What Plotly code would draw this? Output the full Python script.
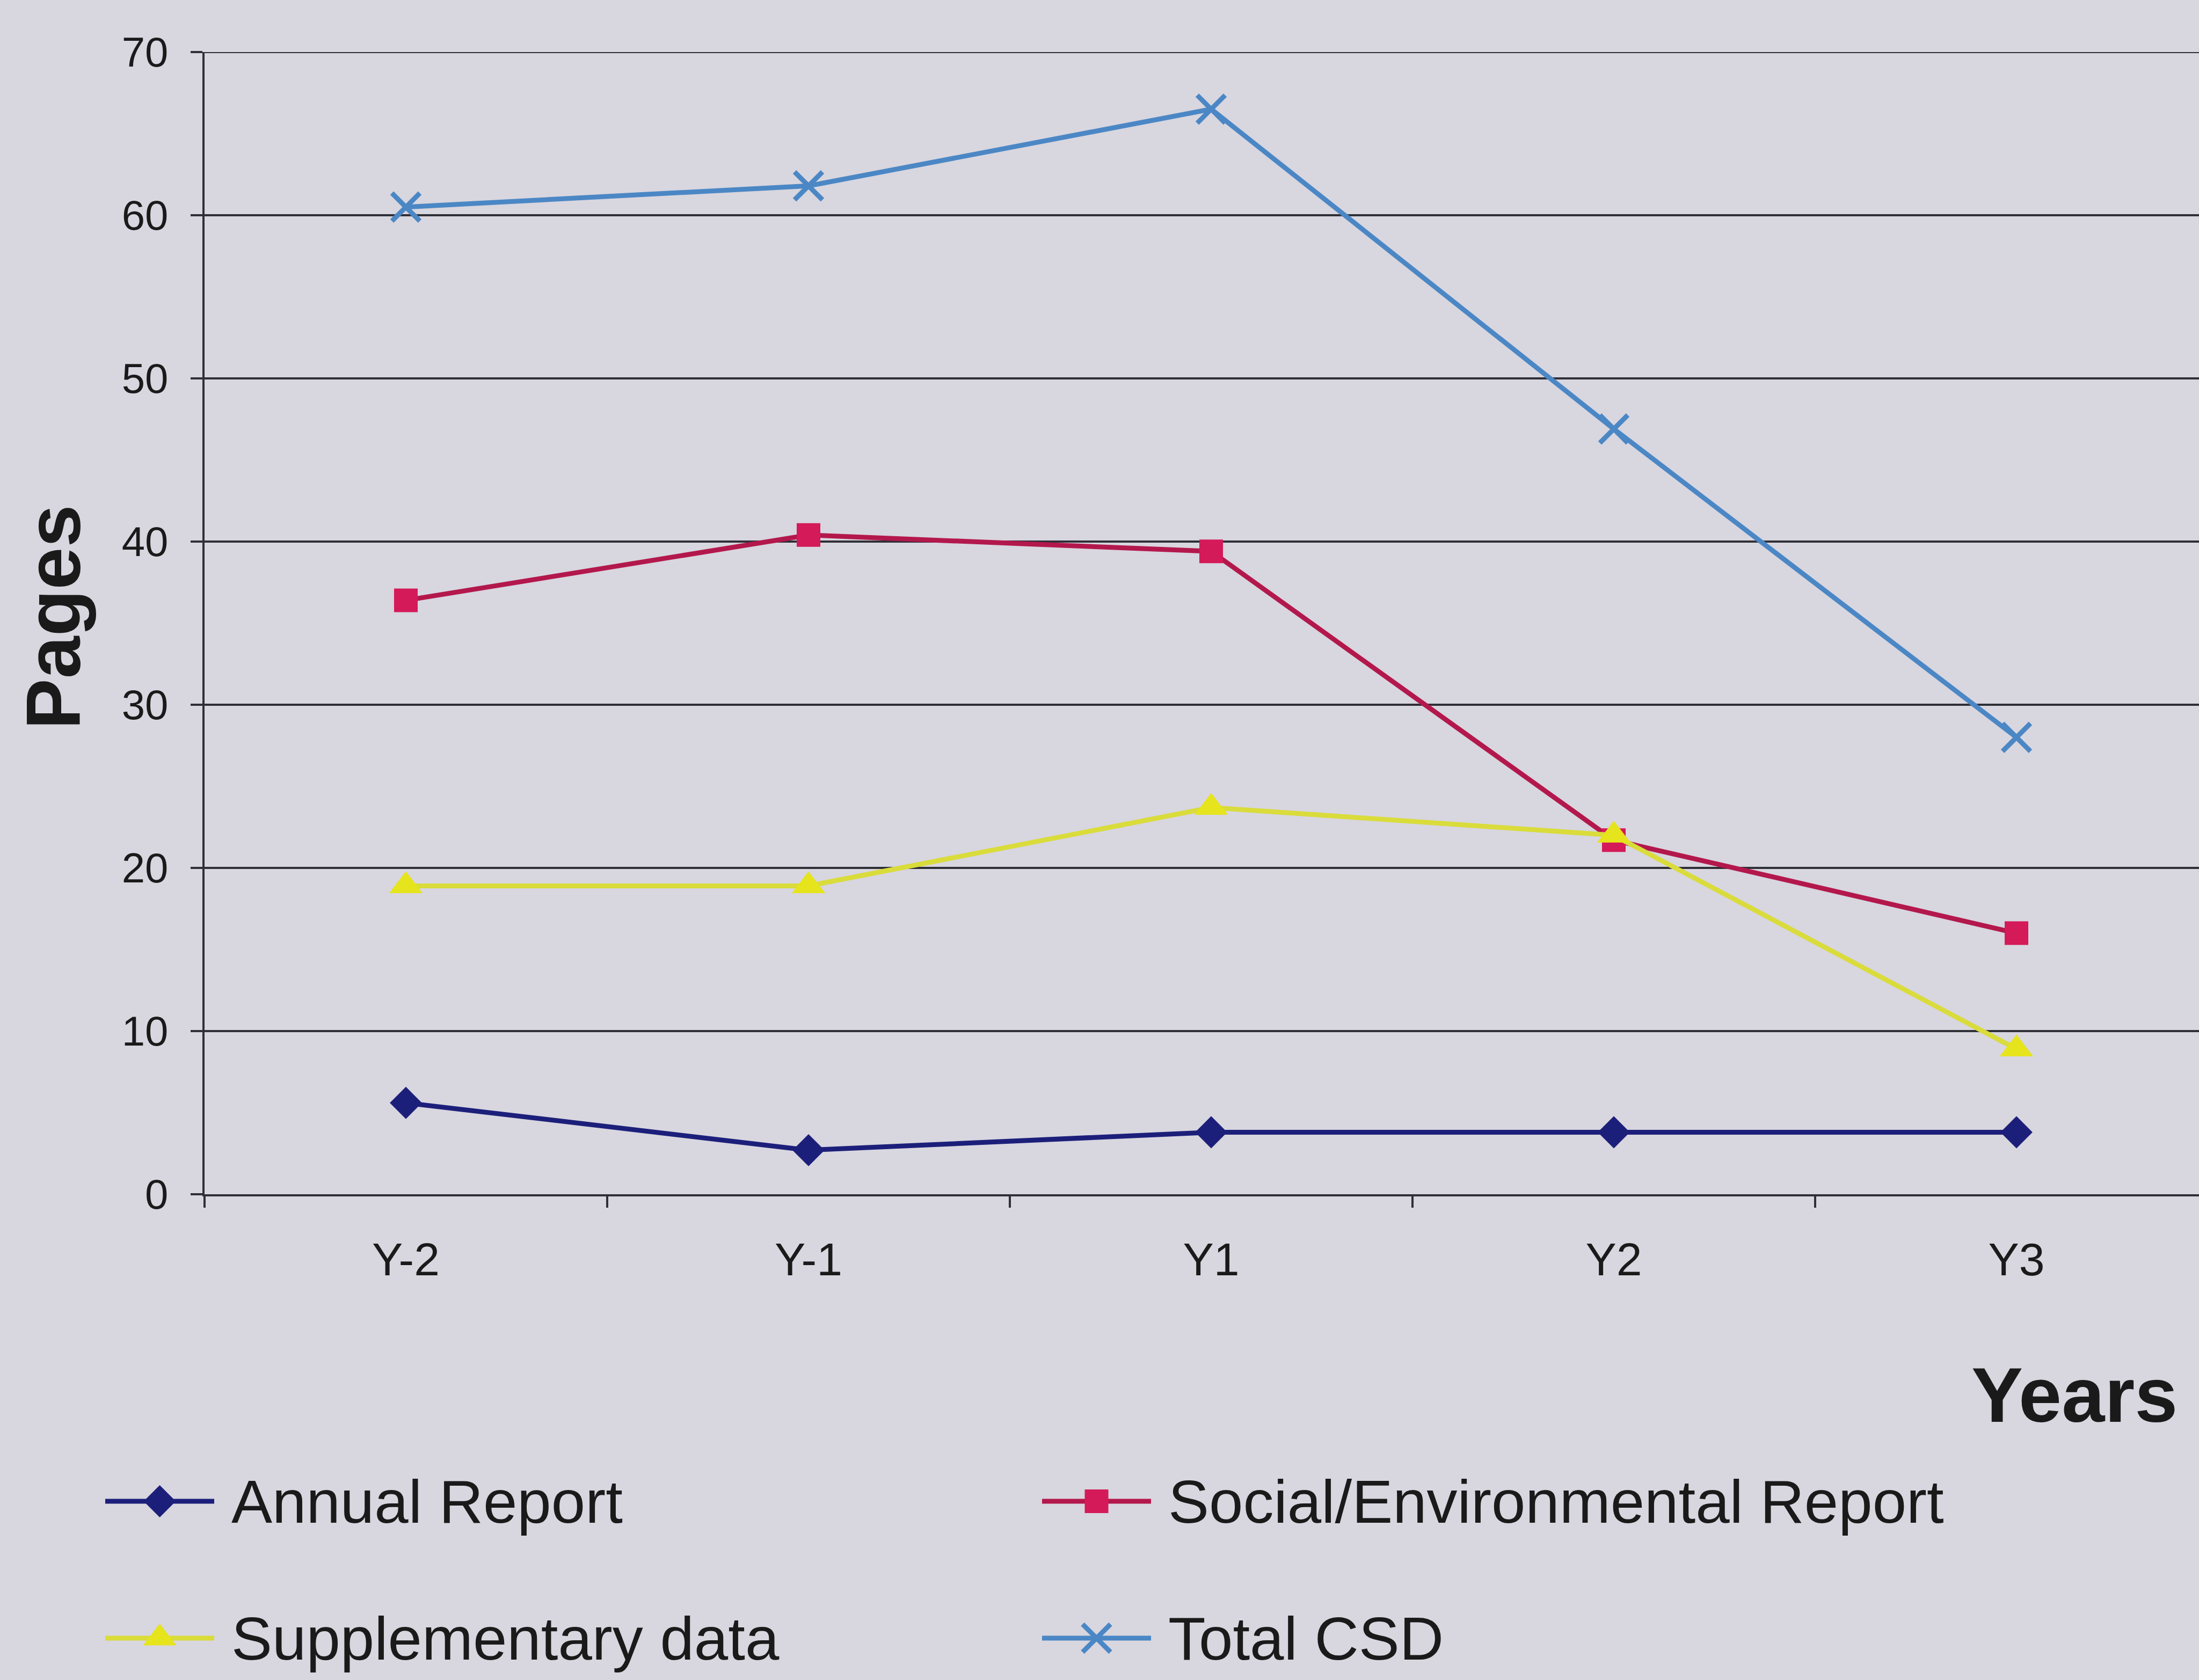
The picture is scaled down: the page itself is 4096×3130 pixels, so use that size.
import plotly.graph_objects as go

# ---- data -------------------------------------------------------------
years = ["Y-2", "Y-1", "Y1", "Y2", "Y3"]
annual_report = [5.6, 2.7, 3.8, 3.8, 3.8]
social_env_report = [36.4, 40.4, 39.4, 21.7, 16.0]
supplementary_data = [18.9, 18.9, 23.7, 22.0, 8.9]
total_csd = [60.5, 61.8, 66.5, 46.9, 28.0]

series_names = ["Annual Report", "Social/Environmental Report",
                "Supplementary data", "Total CSD"]
y_ticks = [0, 10, 20, 30, 40, 50, 60, 70]

# ---- styling ----------------------------------------------------------
W, H = 4096, 3130
BG = "#d8d6df"
GRID = "#2f2f38"
FONT = "Liberation Sans, Arial, sans-serif"
LW = 9

styles = [
    dict(line="#1c1f7a", marker="#1c1f7a", symbol="diamond", size=46),
    dict(line="#b3184c", marker="#d41a58", symbol="square", size=44),
    dict(line="#d9dc3a", marker="#e6e41c", symbol="triangle-up", size=54),
    dict(line="#4b87c5", marker="#4b87c5", symbol="x-thin", size=52),
]
values = [annual_report, social_env_report, supplementary_data, total_csd]

# plot area in pixels
PL, PT, PB = 381, 97, 2225


def marker_style(st):
    return dict(symbol=st["symbol"], size=st["size"], color=st["marker"],
                line=dict(color=st["marker"],
                          width=LW if st["symbol"] == "x-thin" else 0))


fig = go.Figure()

for name, vals, st in zip(series_names, values, styles):
    fig.add_trace(go.Scatter(
        x=years, y=vals, name=name, mode="lines+markers",
        line=dict(color=st["line"], width=LW),
        marker=marker_style(st),
        cliponaxis=False, showlegend=False,
        xaxis="x", yaxis="y",
    ))

# ---- hand-laid legend on a full-page pixel axis ------------------------
legend_slots = [(196, 2797), (1941, 2797), (196, 3052), (1941, 3052)]
SAMPLE_LEN = 203
for name, st, (lx, ly) in zip(series_names, styles, legend_slots):
    fig.add_trace(go.Scatter(
        x=[lx, lx + SAMPLE_LEN], y=[ly, ly], mode="lines",
        line=dict(color=st["line"], width=LW), showlegend=False,
        hoverinfo="skip", xaxis="x2", yaxis="y2",
    ))
    fig.add_trace(go.Scatter(
        x=[lx + SAMPLE_LEN / 2], y=[ly], mode="markers",
        marker=marker_style(st),
        showlegend=False, hoverinfo="skip", xaxis="x2", yaxis="y2",
    ))
    fig.add_annotation(
        x=lx + SAMPLE_LEN + 30, y=ly, xref="x2", yref="y2",
        text=name, showarrow=False, xanchor="left", yanchor="middle",
        font=dict(family=FONT, size=114, color="#1a1a1a"),
    )

# top gridline (plotly drops the grid line sitting on the range end)
fig.add_shape(type="line", xref="x domain", yref="y",
              x0=0, x1=1, y0=y_ticks[-1], y1=y_ticks[-1],
              line=dict(color=GRID, width=4), layer="below")

# axis titles
fig.add_annotation(
    x=99 / W, y=1 - 1150 / H, xref="paper", yref="paper",
    text="<b>Pages</b>", textangle=-90, showarrow=False,
    xanchor="center", yanchor="middle",
    font=dict(family=FONT, size=142, color="#1a1a1a"),
)
fig.add_annotation(
    x=4058 / W, y=1 - 2599 / H, xref="paper", yref="paper",
    text="<b>Years</b>", showarrow=False,
    xanchor="right", yanchor="middle",
    font=dict(family=FONT, size=144, color="#1a1a1a"),
)

fig.update_layout(
    width=W, height=H,
    margin=dict(l=0, r=0, t=0, b=0, autoexpand=False),
    paper_bgcolor=BG, plot_bgcolor="rgba(0,0,0,0)",
    font=dict(family=FONT, color="#1a1a1a"),
    xaxis=dict(
        type="category", categoryorder="array", categoryarray=years,
        domain=[PL / W, 1], range=[-0.5, -0.5 + (W - PL) / 750],
        tickson="boundaries", ticks="outside", ticklen=21, tickwidth=4,
        tickcolor=GRID, showline=True, linecolor=GRID, linewidth=4,
        showgrid=False, zeroline=False, automargin=False,
        tickfont=dict(family=FONT, size=86, color="#1a1a1a"),
        ticklabelstandoff=44, anchor="y",
    ),
    yaxis=dict(
        domain=[1 - PB / H, 1 - PT / H], range=[0, 70],
        tickvals=y_ticks, ticks="outside", ticklen=22, tickwidth=4,
        tickcolor=GRID, showline=True, linecolor=GRID, linewidth=4,
        showgrid=True, gridcolor=GRID, gridwidth=4, zeroline=False,
        automargin=False,
        tickfont=dict(family=FONT, size=78, color="#1a1a1a"),
        ticklabelstandoff=26, anchor="x",
    ),
    xaxis2=dict(domain=[0, 1], range=[0, W], visible=False, anchor="y2",
                fixedrange=True, automargin=False),
    yaxis2=dict(domain=[0, 1], range=[H, 0], visible=False, anchor="x2",
                fixedrange=True, automargin=False),
)

fig.write_html("out.html")
